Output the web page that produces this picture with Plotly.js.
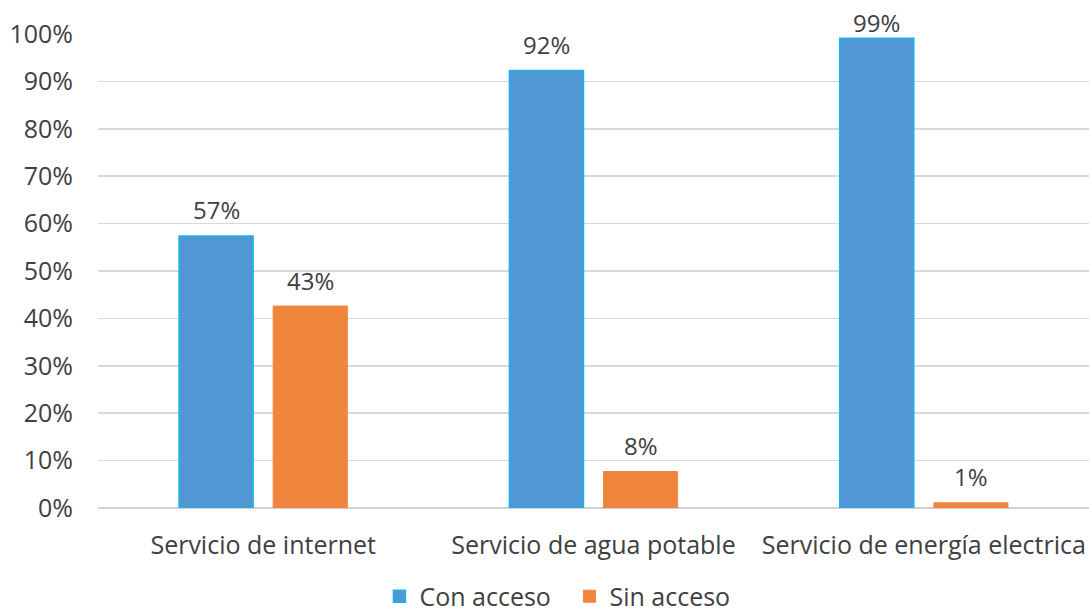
<!DOCTYPE html>
<html>
<head>
<meta charset="utf-8">
<script src="https://cdn.plot.ly/plotly-3.0.1.min.js"></script>
<style>html,body{margin:0;padding:0;background:#fff;}#chart{width:1089px;height:613px;}</style>
</head>
<body>
<div id="chart"></div>
<script>
const categories = ["Servicio de internet", "Servicio de agua potable", "Servicio de energía electrica"];
const conAcceso = [0.574, 0.923, 0.991];
const sinAcceso = [0.426, 0.077, 0.011];
const seriesNames = ["Con acceso", "Sin acceso"];
const yTickVals = [0, 0.1, 0.2, 0.3, 0.4, 0.5, 0.6, 0.7, 0.8, 0.9, 1.0];
const yTickText = ["0%", "10%", "20%", "30%", "40%", "50%", "60%", "70%", "80%", "90%", "100%"];

const font = {family: "Open Sans, sans-serif", size: 25, color: "#404040"};
const labelFont = {family: "Open Sans, sans-serif", size: 24, color: "#404040"};

const traces = [
  {
    type: "bar", name: seriesNames[0], x: categories, y: conAcceso,
    marker: {color: "#5097D3", line: {color: "#1CB4EC", width: 1.5}},
    hoverinfo: "skip"
  },
  {
    type: "bar", name: seriesNames[1], x: categories, y: sinAcceso,
    marker: {color: "#F0853E", line: {color: "#F0853E", width: 1}},
    hoverinfo: "skip"
  }
];

// data labels placed above each bar
const annotations = [];
const series = [conAcceso, sinAcceso];
const offsets = [-47, 47];
series.forEach((vals, s) => {
  vals.forEach((v, i) => {
    annotations.push({
      x: categories[i], y: v, xref: "x", yref: "y",
      text: Math.round(v * 100) + "%",
      showarrow: false, xshift: offsets[s], yshift: v > 0.97 ? 16 : 26,
      yanchor: "middle", font: labelFont
    });
  });
});

const layout = {
  width: 1089, height: 613,
  margin: {l: 98, r: 0, t: 34, b: 105},
  paper_bgcolor: "#fff", plot_bgcolor: "#fff",
  font: font,
  barmode: "group", bargap: 0.43, bargroupgap: 0.213,
  showlegend: true,
  legend: {orientation: "h", x: 0.284, xanchor: "left", xref: "paper",
           y: 0.027, yanchor: "middle", yref: "container",
           font: font, traceorder: "normal", itemwidth: 30,
           entrywidth: 145, entrywidthmode: "pixels"},
  annotations: annotations,
  xaxis: {
    showgrid: false, showline: false, zeroline: false, automargin: false,
    ticks: "outside", ticklen: 15, tickcolor: "rgba(0,0,0,0)",
    tickfont: font, fixedrange: true
  },
  yaxis: {
    range: [0, 1], tickvals: yTickVals, ticktext: yTickText, automargin: false,
    showgrid: true, gridcolor: "#d9d9d9", gridwidth: 1.5,
    zeroline: true, zerolinecolor: "#d0d0d0", zerolinewidth: 2,
    showline: false, ticks: "", ticklabelstandoff: 24,
    tickfont: font, fixedrange: true
  }
};

Plotly.newPlot("chart", traces, layout, {displayModeBar: false, staticPlot: true});
</script>
</body>
</html>
